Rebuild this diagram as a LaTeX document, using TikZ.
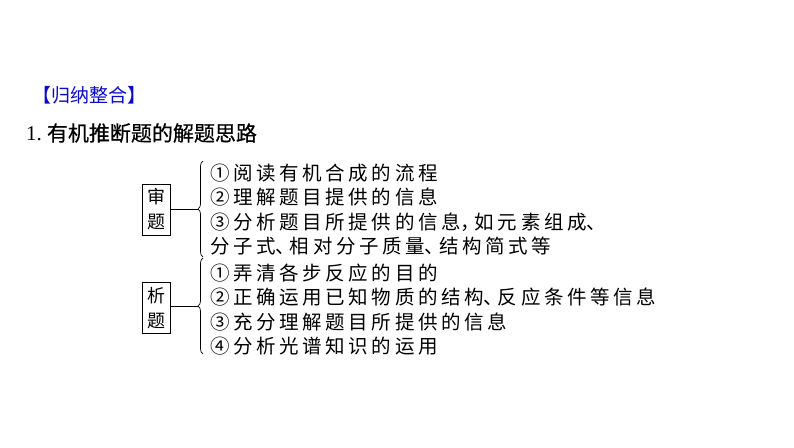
\documentclass[tikz,border=0pt]{standalone}
\usepackage{fontspec}
\usetikzlibrary{decorations.pathreplacing}
\newfontfamily\bodycjk[LetterSpace=18.5]{Noto Sans CJK SC}
\newfontfamily\titlecjk[FakeBold=0.6]{Noto Sans CJK SC}
\newfontfamily\headcjk{Noto Sans CJK SC}
\newfontfamily\latinserif{Liberation Serif}
\definecolor{headblue}{RGB}{10,10,205}
\newcommand\hdun{\makebox[0.72em][l]{、}}
\newcommand\hcom{\makebox[0.72em][l]{，}}
\begin{document}
\begin{tikzpicture}[x=1pt,y=-1pt,
  body/.style={anchor=west, inner sep=0pt, font=\bodycjk\fontsize{19.5}{24}\selectfont},
  boxn/.style={draw, line width=0.8pt, inner sep=0pt, minimum width=28pt, minimum height=51pt, align=center, font=\headcjk\fontsize{18}{25}\selectfont},
  conn/.style={line width=0.7pt},
  bracestyle/.style={line width=0.7pt, decorate, decoration={brace, amplitude=5pt}}]
\useasboundingbox (0,0) rectangle (794,447);
% headings
\node[anchor=west, inner sep=0pt, text=headblue, font=\headcjk\fontsize{19}{22}\selectfont] (head) at (32,95) {【归纳整合】};
\node[anchor=west, inner sep=0pt, font=\fontsize{21}{24}\selectfont] (title) at (26,133) {\latinserif 1.\hspace{5pt}\titlecjk 有机推断题的解题思路};
% group 1
\node[boxn] (b1) at (156,209.5) {审\\题};
\coordinate (t1) at (198,209);
\coordinate (br1b) at (203,257);
\coordinate (br1t) at (203,161);
\draw[conn] (b1.east |- t1) -- (t1);
\draw[bracestyle] (br1b) -- (br1t);
\node[body] (a1) at (210,173) {①阅读有机合成的流程};
\node[body] (a2) at (210,197.5) {②理解题目提供的信息};
\node[body] (a3) at (210,222) {③分析题目所提供的信息\hcom 如元素组成\hdun};
\node[body] (a4) at (210,246.5) {分子式\hdun 相对分子质量\hdun 结构简式等};
% group 2
\node[boxn] (b2) at (156,308) {析\\题};
\coordinate (t2) at (198,306);
\coordinate (br2b) at (203,354);
\coordinate (br2t) at (203,258);
\draw[conn] (b2.east |- t2) -- (t2);
\draw[bracestyle] (br2b) -- (br2t);
\node[body] (c1) at (210,273) {①弄清各步反应的目的};
\node[body] (c2) at (210,297.5) {②正确运用已知物质的结构\hdun 反应条件等信息};
\node[body] (c3) at (210,322) {③充分理解题目所提供的信息};
\node[body] (c4) at (210,346) {④分析光谱知识的运用};
\end{tikzpicture}
\end{document}
